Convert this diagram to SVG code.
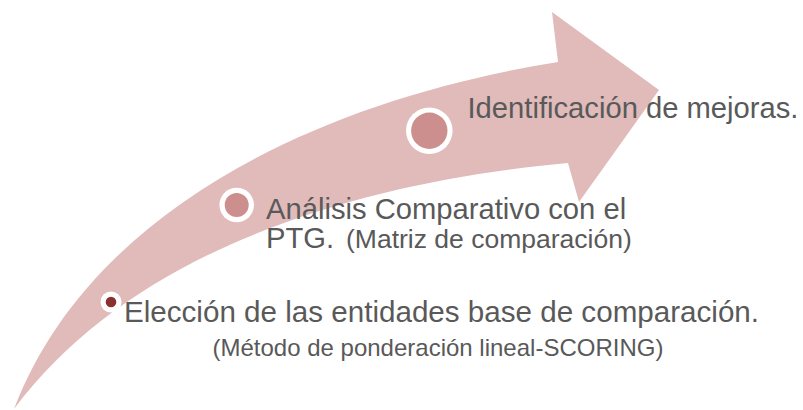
<svg xmlns="http://www.w3.org/2000/svg" width="803" height="410" viewBox="0 0 803 410">
  <style>
    .arrow { fill: #E0BBBA; }
    .ring { fill: #FFFFFF; }
    .dot { fill: #CD8F8E; }
    .dotdark { fill: #8B2F2F; }
    .t { font-family: "Liberation Sans", Arial, sans-serif; fill: #595959; }
    .big { font-size: 29.2px; }
    .small { font-size: 24px; }
    .mid { font-size: 26.5px; }
  </style>
  <g id="arrow">
    <path class="arrow" d="M14,409 C90,210 320,100 558,62 L552,12 L659,90 L579,202 L568,163 C380,180 140,240 14,409 Z"/>
  </g>
  <g id="connectors"></g>
  <g id="node-eleccion">
    <circle class="ring" cx="111" cy="302" r="10.5"/>
    <circle class="dotdark" cx="111" cy="302" r="5.3"/>
    <text class="t big" x="124" y="322" style="font-size:29.6px">Elección de las entidades base de comparación.</text>
    <text class="t small" x="212.5" y="356">(Método de ponderación lineal-SCORING)</text>
  </g>
  <g id="node-analisis">
    <circle class="ring" cx="236.7" cy="205" r="17.3"/>
    <circle class="dot" cx="236.7" cy="205" r="12"/>
    <text class="t big" x="266" y="219">Análisis Comparativo con el</text>
    <text class="t big" x="266" y="248">PTG. <tspan class="mid" x="346">(Matriz de comparación)</tspan></text>
  </g>
  <g id="node-identificacion">
    <circle class="ring" cx="429.3" cy="130.7" r="23.3"/>
    <circle class="dot" cx="429.3" cy="130.7" r="18.2"/>
    <text class="t big" x="467.5" y="118">Identificación de mejoras.</text>
  </g>
</svg>
